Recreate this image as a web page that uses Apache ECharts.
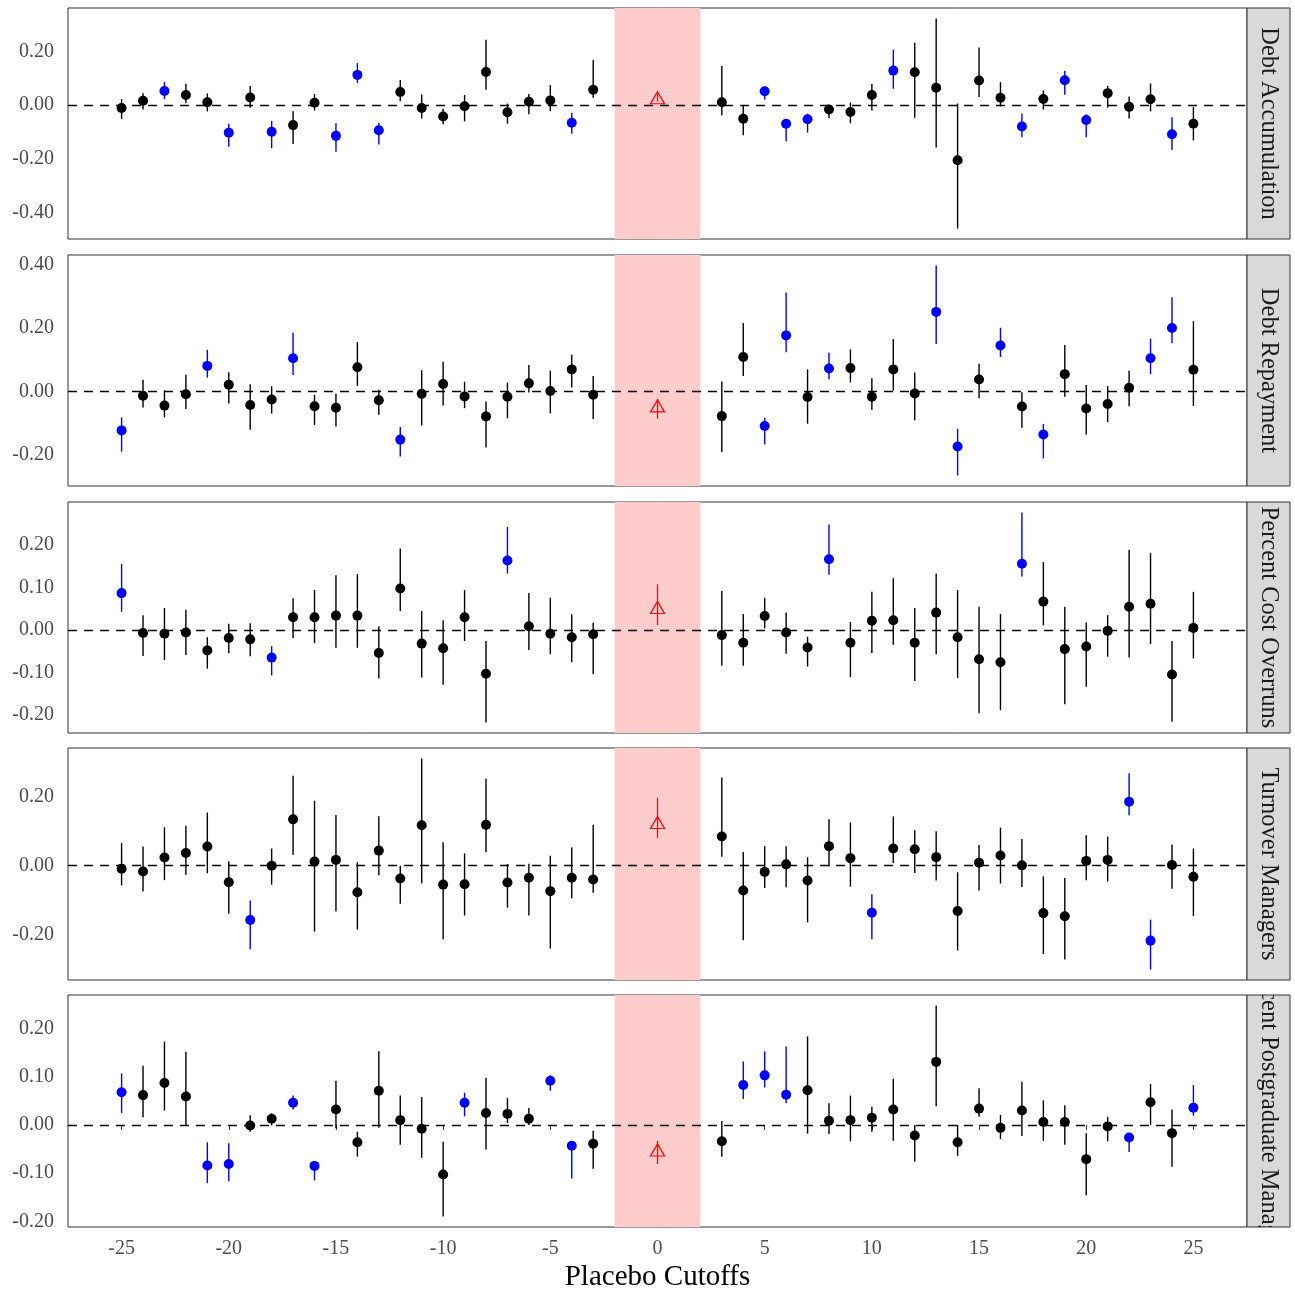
<!DOCTYPE html>
<html>
<head>
<meta charset="utf-8">
<script src="https://cdn.jsdelivr.net/npm/echarts@6/dist/echarts.min.js"></script>
<style>
html,body{margin:0;padding:0;background:#fff;}
#chart{width:1295px;height:1290px;}
</style>
</head>
<body>
<div id="chart"></div>
<script>
// ---------------- DATA ----------------
var cutoffs = [-25,-24,-23,-22,-21,-20,-19,-18,-17,-16,-15,-14,-13,-12,-11,-10,-9,-8,-7,-6,-5,-4,-3,
               3,4,5,6,7,8,9,10,11,12,13,14,15,16,17,18,19,20,21,22,23,24,25];
var xTicks = [-25,-20,-15,-10,-5,0,5,10,15,20,25];
var stripLabels = ["Debt Accumulation","Debt Repayment","Percent Cost Overruns","Turnover Managers","Percent Postgraduate Managers"];

// Panel 1: Debt Accumulation
var debtAccEst = [-0.010,0.017,0.053,0.038,0.011,-0.102,0.029,-0.099,-0.074,0.009,-0.114,0.113,-0.093,0.049,-0.010,-0.042,-0.004,0.124,-0.026,0.013,0.018,-0.065,0.058,
                  0.011,-0.050,0.052,-0.069,-0.052,-0.016,-0.025,0.038,0.129,0.123,0.065,-0.205,0.092,0.028,-0.079,0.023,0.093,-0.055,0.045,-0.006,0.022,-0.108,-0.069];
var debtAccLo  = [-0.052,-0.016,0.023,0.007,-0.023,-0.155,-0.009,-0.160,-0.144,-0.020,-0.173,0.083,-0.146,0.015,-0.049,-0.071,-0.060,0.058,-0.069,-0.034,-0.022,-0.106,0.028,
                  -0.037,-0.112,0.021,-0.134,-0.102,-0.048,-0.067,-0.020,0.061,-0.047,-0.157,-0.459,0.031,-0.005,-0.119,-0.016,0.039,-0.119,-0.009,-0.049,-0.023,-0.167,-0.131];
var debtAccHi  = [0.023,0.045,0.087,0.080,0.044,-0.069,0.072,-0.058,-0.022,0.042,-0.067,0.157,-0.066,0.094,0.040,-0.013,0.038,0.244,0.006,0.042,0.075,-0.028,0.168,
                  0.146,0.000,0.066,-0.052,-0.031,0.000,0.010,0.079,0.207,0.233,0.323,0.006,0.215,0.086,-0.031,0.055,0.128,-0.034,0.072,0.033,0.081,-0.045,-0.006];
var debtAccSig = [0,0,1,0,0,1,0,1,0,0,1,1,1,0,0,0,0,0,0,0,0,1,0,
                  0,0,1,1,1,0,0,0,1,0,0,0,0,0,1,0,1,1,0,0,0,1,0];
var debtAccZero = [0.028, 0.014, 0.042];

// Panel 2: Debt Repayment
var debtRepEst = [-0.122,-0.013,-0.044,-0.008,0.081,0.022,-0.042,-0.025,0.105,-0.046,-0.051,0.077,-0.027,-0.151,-0.007,0.024,-0.015,-0.078,-0.016,0.026,0.002,0.070,-0.010,
                  -0.077,0.109,-0.108,0.177,-0.017,0.073,0.074,-0.016,0.070,-0.006,0.251,-0.173,0.038,0.145,-0.047,-0.135,0.055,-0.053,-0.039,0.012,0.105,0.200,0.069];
var debtRepLo  = [-0.189,-0.050,-0.081,-0.055,0.044,-0.037,-0.120,-0.069,0.052,-0.105,-0.110,0.018,-0.073,-0.204,-0.107,-0.044,-0.052,-0.176,-0.084,-0.003,-0.068,0.013,-0.086,
                  -0.190,0.049,-0.166,0.124,-0.101,0.039,0.029,-0.057,0.003,-0.090,0.150,-0.264,-0.021,0.109,-0.114,-0.210,-0.016,-0.135,-0.096,-0.046,0.055,0.152,-0.045];
var debtRepHi  = [-0.081,0.037,0.004,0.053,0.132,0.061,0.023,0.017,0.185,-0.010,-0.007,0.156,0.006,-0.111,0.067,0.094,0.031,-0.031,0.028,0.084,0.066,0.116,0.049,
                  0.032,0.216,-0.082,0.312,0.070,0.122,0.133,0.042,0.166,0.060,0.397,-0.117,0.088,0.201,-0.002,-0.102,0.147,0.021,0.018,0.066,0.167,0.297,0.222];
var debtRepSig = [1,0,0,0,1,0,0,0,1,0,0,0,0,1,0,0,0,0,0,0,0,0,0,
                  0,0,1,1,0,1,0,0,0,0,1,1,0,1,0,1,0,0,0,0,1,1,0];
var debtRepZero = [-0.045, -0.085, -0.023];

// Panel 3: Percent Cost Overruns
var costEst = [0.087,-0.007,-0.009,-0.006,-0.048,-0.019,-0.022,-0.065,0.030,0.030,0.034,0.034,-0.054,0.098,-0.032,-0.043,0.030,-0.103,0.164,0.009,-0.009,-0.017,-0.010,
               -0.012,-0.030,0.033,-0.006,-0.041,0.167,-0.030,0.022,0.023,-0.030,0.041,-0.017,-0.069,-0.076,0.156,0.067,-0.045,-0.039,-0.002,0.055,0.062,-0.105,0.005];
var costLo  = [0.043,-0.061,-0.071,-0.059,-0.091,-0.055,-0.062,-0.107,-0.019,-0.031,-0.042,-0.042,-0.114,0.045,-0.112,-0.129,-0.026,-0.218,0.133,-0.047,-0.057,-0.076,-0.104,
               -0.084,-0.084,0.004,-0.056,-0.086,0.130,-0.111,-0.054,-0.035,-0.120,-0.057,-0.113,-0.196,-0.189,0.126,0.011,-0.175,-0.134,-0.063,-0.065,-0.033,-0.216,-0.067];
var costHi  = [0.156,0.035,0.052,0.048,-0.017,0.015,0.016,-0.038,0.075,0.094,0.129,0.132,0.009,0.192,0.045,0.023,0.094,-0.026,0.243,0.087,0.076,0.037,0.017,
               0.092,0.038,0.076,0.041,-0.016,0.249,0.019,0.090,0.122,0.052,0.133,0.094,0.055,0.038,0.277,0.160,0.055,0.018,0.035,0.189,0.182,-0.026,0.090];
var costSig = [1,0,0,0,0,0,0,1,0,0,0,0,0,0,0,0,0,0,1,0,0,0,0,
               0,0,0,0,0,1,0,0,0,0,0,0,0,0,1,0,0,0,0,0,0,0,0];
var costZero = [0.053, 0.012, 0.108];

// Panel 4: Turnover Managers
var turnEst = [-0.009,-0.017,0.024,0.037,0.056,-0.048,-0.158,0.000,0.135,0.012,0.017,-0.077,0.044,-0.037,0.118,-0.055,-0.054,0.119,-0.049,-0.035,-0.074,-0.035,-0.040,
               0.085,-0.072,-0.018,0.004,-0.043,0.057,0.022,-0.137,0.050,0.048,0.025,-0.132,0.009,0.030,0.001,-0.138,-0.147,0.014,0.017,0.186,-0.218,0.002,-0.032];
var turnLo  = [-0.057,-0.075,-0.042,-0.026,-0.022,-0.140,-0.243,-0.055,0.032,-0.192,-0.133,-0.186,-0.028,-0.111,-0.051,-0.214,-0.145,0.039,-0.122,-0.145,-0.241,-0.095,-0.079,
               0.026,-0.217,-0.065,-0.063,-0.165,-0.002,-0.061,-0.214,0.008,-0.021,-0.043,-0.247,-0.072,-0.052,-0.062,-0.257,-0.273,-0.042,-0.046,0.147,-0.302,-0.067,-0.147];
var turnHi  = [0.066,0.056,0.112,0.116,0.155,0.013,-0.101,0.050,0.262,0.189,0.148,0.010,0.144,0.000,0.312,0.068,0.036,0.253,0.005,0.006,0.029,0.053,0.119,
               0.257,0.040,0.057,0.057,0.025,0.135,0.126,-0.083,0.143,0.103,0.100,-0.019,0.060,0.111,0.078,-0.031,-0.036,0.089,0.085,0.269,-0.157,0.062,0.050];
var turnSig = [0,0,0,0,0,0,1,0,0,0,0,0,0,0,0,0,0,0,0,0,0,0,0,
               0,0,0,0,0,0,0,1,0,0,0,0,0,0,0,0,0,0,0,1,1,0,0];
var turnZero = [0.126, 0.081, 0.198];

// Panel 5: Percent Postgraduate Managers
var postEst = [0.068,0.062,0.087,0.059,-0.084,-0.081,-0.001,0.013,0.046,-0.085,0.032,-0.036,0.071,0.010,-0.008,-0.103,0.046,0.025,0.023,0.013,0.092,-0.043,-0.039,
               -0.034,0.083,0.103,0.063,0.072,0.009,0.010,0.015,0.032,-0.022,0.131,-0.036,0.034,-0.006,0.030,0.006,0.006,-0.071,-0.003,-0.026,0.047,-0.017,0.036];
var postLo  = [0.025,0.016,0.030,0.000,-0.121,-0.117,-0.014,-0.001,0.032,-0.115,-0.007,-0.066,-0.006,-0.041,-0.068,-0.190,0.018,-0.051,0.004,0.000,0.071,-0.111,-0.091,
               -0.066,0.054,0.078,0.045,-0.018,-0.019,-0.034,-0.014,-0.033,-0.076,0.039,-0.064,0.017,-0.029,-0.023,-0.033,-0.041,-0.146,-0.034,-0.056,0.000,-0.087,0.019];
var postHi  = [0.107,0.123,0.173,0.152,-0.036,-0.038,0.020,0.024,0.061,-0.075,0.092,-0.014,0.153,0.061,0.058,-0.035,0.067,0.098,0.056,0.035,0.103,-0.035,-0.012,
               0.008,0.132,0.153,0.163,0.184,0.045,0.061,0.038,0.096,0.000,0.248,0.000,0.076,0.021,0.090,0.051,0.041,-0.017,0.017,-0.018,0.085,0.032,0.083];
var postSig = [1,0,0,0,1,1,0,0,1,1,0,0,0,0,0,0,1,0,0,0,1,1,0,
               0,1,1,1,0,0,0,0,0,0,0,0,0,0,0,0,0,0,0,1,0,0,1];
var postZero = [-0.052, -0.081, -0.033];

var yTicks1 = [-0.4,-0.2,0,0.2];
var yTicks2 = [-0.2,0,0.2,0.4];
var yTicks3 = [-0.2,-0.1,0,0.1,0.2];
var yTicks4 = [-0.2,0,0.2];
var yTicks5 = [-0.2,-0.1,0,0.1,0.2];

// ---------------- LAYOUT / STYLE ----------------
var FONT = '"Liberation Serif", "Times New Roman", serif';
var panels = [
  {est:debtAccEst, lo:debtAccLo, hi:debtAccHi, sig:debtAccSig, zero:debtAccZero, ticks:yTicks1},
  {est:debtRepEst, lo:debtRepLo, hi:debtRepHi, sig:debtRepSig, zero:debtRepZero, ticks:yTicks2},
  {est:costEst,    lo:costLo,    hi:costHi,    sig:costSig,    zero:costZero,    ticks:yTicks3},
  {est:turnEst,    lo:turnLo,    hi:turnHi,    sig:turnSig,    zero:turnZero,    ticks:yTicks4},
  {est:postEst,    lo:postLo,    hi:postHi,    sig:postSig,    zero:postZero,    ticks:yTicks5}
];
var panelTop = [8, 255, 502, 748, 995];
var panelH   = [231, 231, 231, 232, 232];
var gridLeft = 68, gridRight = 1247, stripW = 43;

var grids = [], xAxes = [], yAxes = [], series = [];
panels.forEach(function(p, i){
  var last = (i === panels.length - 1);
  grids.push({left: gridLeft, top: panelTop[i], width: gridRight - gridLeft, height: panelH[i],
              show: true, borderColor: '#333333', borderWidth: 1, backgroundColor: 'transparent',
              containLabel: false, outerBoundsMode: 'none'});
  xAxes.push({type: 'value', gridIndex: i, min: -27.5, max: 27.5,
              axisLine: {show: false}, splitLine: {show: false},
              axisTick: {show: last, inside: false, length: 5, customValues: xTicks, lineStyle: {color: '#333333', width: 1}},
              axisLabel: {show: last, customValues: xTicks, margin: 12, color: '#4d4d4d', fontSize: 20, fontFamily: FONT},
              name: last ? 'Placebo Cutoffs' : '', nameLocation: 'middle', nameGap: 36,
              nameTextStyle: {fontSize: 29, color: '#000', fontFamily: FONT}});
  var mn = Math.min.apply(null, p.lo.concat([p.zero[1]]));
  var mx = Math.max.apply(null, p.hi.concat([p.zero[2]]));
  var pad = 0.05 * (mx - mn);
  yAxes.push({type: 'value', gridIndex: i, min: mn - pad, max: mx + pad,
              axisLine: {show: false}, splitLine: {show: false},
              axisTick: {show: true, inside: false, length: 5, customValues: p.ticks, lineStyle: {color: '#333333', width: 1}},
              axisLabel: {customValues: p.ticks, margin: 14, color: '#4d4d4d', fontSize: 20, fontFamily: FONT,
                          formatter: function(v){ return (Math.abs(v) < 1e-9 ? 0 : v).toFixed(2); }}});

  // pink band + dashed zero line
  series.push({type: 'line', xAxisIndex: i, yAxisIndex: i, data: [], z: 0, silent: true,
               markArea: {silent: true, itemStyle: {color: '#ffcccc'}, label: {show: false},
                          data: [[{xAxis: -2}, {xAxis: 2}]]}});
  series.push({type: 'line', xAxisIndex: i, yAxisIndex: i, data: [], z: 1, silent: true,
               markLine: {silent: true, symbol: ['none','none'], label: {show: false},
                          lineStyle: {color: '#000', type: [9, 7], width: 1.4},
                          data: [{yAxis: 0}]}});
  // error bars
  var rows = cutoffs.map(function(x, k){ return [x, p.lo[k], p.hi[k], p.sig[k], p.est[k]]; });
  series.push({type: 'custom', xAxisIndex: i, yAxisIndex: i, z: 2, silent: true,
               encode: {x: 0, y: [1, 2]}, data: rows,
               renderItem: function(params, api){
                 var a = api.coord([api.value(0), api.value(1)]);
                 var b = api.coord([api.value(0), api.value(2)]);
                 return {type: 'line', shape: {x1: a[0], y1: a[1], x2: b[0], y2: b[1]},
                         style: {stroke: api.value(3) ? '#0000ff' : '#000000', lineWidth: 1.4}};
               }});
  // points
  series.push({type: 'scatter', xAxisIndex: i, yAxisIndex: i, z: 3, silent: true,
               symbol: 'circle', symbolSize: 10,
               data: rows.map(function(r){ return [r[0], r[4], r[3]]; }),
               itemStyle: {opacity: 1, color: function(pr){ return pr.data[2] ? '#0000ff' : '#000000'; }}});
  // placebo at zero (red)
  series.push({type: 'custom', xAxisIndex: i, yAxisIndex: i, z: 2, silent: true,
               encode: {x: 0, y: [1, 2]}, data: [[0, p.zero[1], p.zero[2]]],
               renderItem: function(params, api){
                 var a = api.coord([api.value(0), api.value(1)]);
                 var b = api.coord([api.value(0), api.value(2)]);
                 return {type: 'line', shape: {x1: a[0], y1: a[1], x2: b[0], y2: b[1]},
                         style: {stroke: '#ff0000', lineWidth: 1.3}};
               }});
  series.push({type: 'scatter', xAxisIndex: i, yAxisIndex: i, z: 3, silent: true,
               symbol: 'triangle', symbolSize: [14, 12],
               data: [[0, p.zero[0]]],
               itemStyle: {color: 'rgba(255,255,255,0)', borderColor: '#ff0000', borderWidth: 1.2, opacity: 1}});
});

// strip labels (right side), clipped to the strip box
series.push({type: 'custom', coordinateSystem: 'none', silent: true, z: 5,
             data: stripLabels.map(function(s, k){ return [k]; }),
             renderItem: function(params, api){
               var k = params.dataIndex;
               var x0 = gridRight, y0 = panelTop[k], h = panelH[k];
               return {type: 'group', children: [
                 {type: 'rect', shape: {x: x0, y: y0, width: stripW, height: h},
                  style: {fill: '#d9d9d9', stroke: '#333333', lineWidth: 1}},
                 {type: 'group', clipPath: {type: 'rect', shape: {x: x0, y: y0, width: stripW, height: h}},
                  children: [{type: 'text', x: x0 + stripW / 2, y: y0 + h / 2, rotation: -Math.PI / 2,
                              style: {text: stripLabels[k], fill: '#1a1a1a', fontSize: 24.5, fontFamily: FONT,
                                      align: 'center', verticalAlign: 'middle'}}]}
               ]};
             }});

var chart = echarts.init(document.getElementById('chart'), null, {renderer: 'canvas'});
chart.setOption({
  animation: false,
  backgroundColor: '#ffffff',
  grid: grids, xAxis: xAxes, yAxis: yAxes, series: series
});
</script>
</body>
</html>
